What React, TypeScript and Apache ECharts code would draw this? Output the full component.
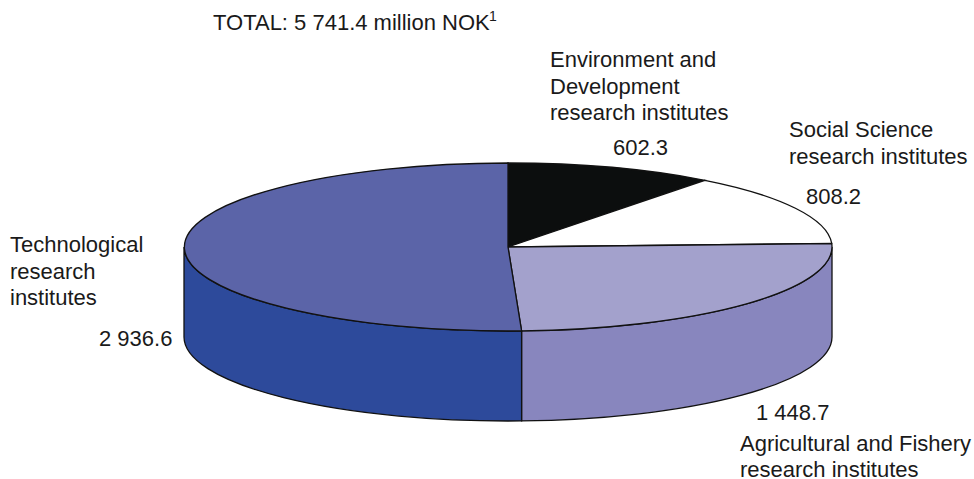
import React, { useEffect, useRef } from "react";
import * as echarts from "echarts";

// Institute groups, clockwise from twelve o'clock (million NOK).
const institutes = ["Environment and Development", "Social Science", "Agricultural and Fishery", "Technological"];
const amounts = [602.3, 808.2, 1448.7, 2936.6];
const amountLabels = ["602.3", "808.2", "1 448.7", "2 936.6"];
const totalLabel = "TOTAL: 5 741.4 million NOK";
const footnoteMark = "1";

const topColors = ["#0c0e0e", "#ffffff", "#a3a1cc", "#5b64a8"];
const sideColors = ["#0c0e0e", "#ffffff", "#8886be", "#2d4a9b"];

const CX = 508;
const CY = 247;
const RX = 324;
const RY = 84;
const DEPTH = 90;
const FONT = '"Liberation Sans", Arial, sans-serif';
const FONT_SIZE = 22;

const total = amounts.reduce((s, v) => s + v, 0);

const px = (a: number) => +(CX + RX * Math.sin(a)).toFixed(2);
const py = (a: number, dy = 0) => +(CY - RY * Math.cos(a) + dy).toFixed(2);

// Angles are measured clockwise from the top of the ellipse.
function startAngle(index: number) {
  return (amounts.slice(0, index).reduce((s, v) => s + v, 0) / total) * Math.PI * 2;
}

function topPath(a0: number, a1: number) {
  const large = a1 - a0 > Math.PI ? 1 : 0;
  return `M${CX} ${CY}L${px(a0)} ${py(a0)}A${RX} ${RY} 0 ${large} 1 ${px(a1)} ${py(a1)}Z`;
}

// Wall below the rim; only the arc facing the viewer is visible.
function wallPath(a0: number, a1: number) {
  const from = Math.max(a0, Math.PI / 2);
  const to = Math.min(a1, (Math.PI * 3) / 2);
  if (to <= from) return null;
  return (
    `M${px(from)} ${py(from)}A${RX} ${RY} 0 0 1 ${px(to)} ${py(to)}` +
    `L${px(to)} ${py(to, DEPTH)}A${RX} ${RY} 0 0 0 ${px(from)} ${py(from, DEPTH)}Z`
  );
}

function renderSlice(params: any, api: any) {
  const i = params.dataIndex;
  const a0 = startAngle(i);
  const a1 = a0 + (api.value(0) / total) * Math.PI * 2;
  const children: any[] = [];
  const wall = wallPath(a0, a1);
  if (wall) {
    children.push({
      type: "path",
      shape: { pathData: wall },
      style: { fill: sideColors[i], stroke: "#111111", lineWidth: 1.3 },
    });
  }
  children.push({
    type: "path",
    shape: { pathData: topPath(a0, a1) },
    style: { fill: topColors[i], stroke: "#111111", lineWidth: 1.3 },
  });
  return { type: "group", children };
}

// y is the text's baseline; the text box is anchored at its top edge.
function label(text: string, x: number, y: number, fontSize = FONT_SIZE) {
  return {
    type: "text",
    x,
    y: y - fontSize * 0.9,
    silent: true,
    style: {
      text,
      fill: "#1a1a1a",
      font: `${fontSize}px ${FONT}`,
      textAlign: "left",
      textVerticalAlign: "top",
    },
  };
}

export default function App() {
  const ref = useRef<HTMLDivElement>(null);

  useEffect(() => {
    if (!ref.current) return;
    const chart = echarts.init(ref.current, undefined, { renderer: "svg" });
    chart.setOption({
      animation: false,
      backgroundColor: "#ffffff",
      series: [
        {
          type: "custom",
          coordinateSystem: "none",
          silent: true,
          data: amounts.map((v, i) => ({ name: institutes[i], value: [v] })),
          renderItem: renderSlice,
        },
      ],
      graphic: [
        label(totalLabel, 213, 31),
        label(footnoteMark, 489, 22, 14),
        label("Environment and", 550, 68),
        label("Development", 550, 95),
        label("research institutes", 550, 121),
        label(amountLabels[0], 613, 156),
        label("Social Science", 789, 138),
        label("research institutes", 789, 165),
        label(amountLabels[1], 806, 205),
        label("Technological", 10, 253),
        label("research", 10, 280),
        label("institutes", 10, 306),
        label(amountLabels[3], 99, 347),
        label(amountLabels[2], 756, 421),
        label("Agricultural and Fishery", 740, 452),
        label("research institutes", 740, 478),
      ],
    });
    return () => chart.dispose();
  }, []);

  return <div ref={ref} style={{ position: "fixed", left: 0, top: 0, width: 974, height: 479 }} />;
}
